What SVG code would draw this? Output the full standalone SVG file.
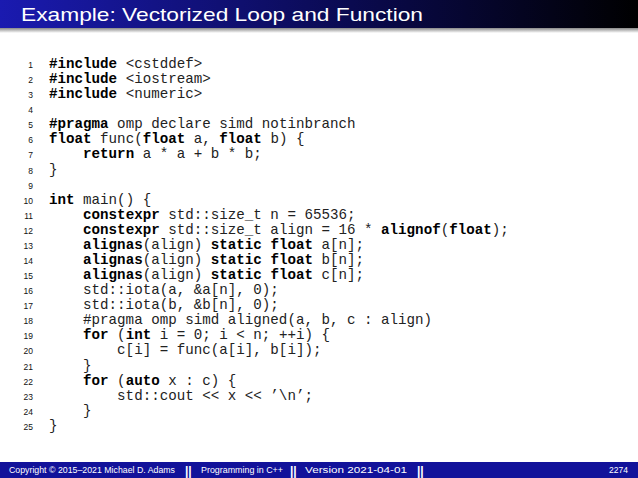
<svg xmlns="http://www.w3.org/2000/svg" width="638" height="478" viewBox="0 0 638 478">
<defs>
<linearGradient id="hg" x1="0" y1="0" x2="1" y2="0"><stop offset="0" stop-color="#1a1ab0"/><stop offset="0.55" stop-color="#0a0a50"/><stop offset="1" stop-color="#000"/></linearGradient>
<linearGradient id="sh" x1="0" y1="0" x2="0" y2="1"><stop offset="0" stop-color="#888"/><stop offset="1" stop-color="#fff"/></linearGradient>
</defs>
<style>
.c{font-family:"Liberation Mono","Courier New",monospace;font-size:14.2px;fill:#222;white-space:pre}
.n{font-family:"Liberation Sans",Arial,sans-serif;font-size:8.5px;fill:#111;text-anchor:end}
.b{font-weight:bold;fill:#000}
.f{font-family:"Liberation Sans",Arial,sans-serif;font-size:8.5px;fill:#fff}
.s{font-family:"Liberation Sans",Arial,sans-serif;font-size:12px;font-weight:bold;fill:#fff}
</style>
<rect width="638" height="478" fill="#fff"/>
<g id="header"><rect width="638" height="28" fill="url(#hg)"/><rect y="28" width="638" height="5" fill="url(#sh)"/>
<text x="21" y="21" font-family="Liberation Sans,Arial,sans-serif" font-size="19" fill="#fff" textLength="402" lengthAdjust="spacingAndGlyphs">Example: Vectorized Loop and Function</text></g>
<g id="code">
<text class="n" x="33" y="68">1</text><text class="c" x="49" y="68"><tspan class="b">#include</tspan> &lt;cstddef&gt;</text>
<text class="n" x="33" y="83">2</text><text class="c" x="49" y="83"><tspan class="b">#include</tspan> &lt;iostream&gt;</text>
<text class="n" x="33" y="98">3</text><text class="c" x="49" y="98"><tspan class="b">#include</tspan> &lt;numeric&gt;</text>
<text class="n" x="33" y="113">4</text>
<text class="n" x="33" y="128">5</text><text class="c" x="49" y="128"><tspan class="b">#pragma</tspan> omp declare simd notinbranch</text>
<text class="n" x="33" y="143">6</text><text class="c" x="49" y="143"><tspan class="b">float</tspan> func(<tspan class="b">float</tspan> a, <tspan class="b">float</tspan> b) {</text>
<text class="n" x="33" y="158">7</text><text class="c" x="49" y="158">    <tspan class="b">return</tspan> a * a + b * b;</text>
<text class="n" x="33" y="174">8</text><text class="c" x="49" y="174">}</text>
<text class="n" x="33" y="189">9</text>
<text class="n" x="33" y="204">10</text><text class="c" x="49" y="204"><tspan class="b">int</tspan> main() {</text>
<text class="n" x="33" y="219">11</text><text class="c" x="49" y="219">    <tspan class="b">constexpr</tspan> std::size_t n = 65536;</text>
<text class="n" x="33" y="234">12</text><text class="c" x="49" y="234">    <tspan class="b">constexpr</tspan> std::size_t align = 16 * <tspan class="b">alignof</tspan>(<tspan class="b">float</tspan>);</text>
<text class="n" x="33" y="249">13</text><text class="c" x="49" y="249">    <tspan class="b">alignas</tspan>(align) <tspan class="b">static float</tspan> a[n];</text>
<text class="n" x="33" y="264">14</text><text class="c" x="49" y="264">    <tspan class="b">alignas</tspan>(align) <tspan class="b">static float</tspan> b[n];</text>
<text class="n" x="33" y="279">15</text><text class="c" x="49" y="279">    <tspan class="b">alignas</tspan>(align) <tspan class="b">static float</tspan> c[n];</text>
<text class="n" x="33" y="294">16</text><text class="c" x="49" y="294">    std::iota(a, &amp;a[n], 0);</text>
<text class="n" x="33" y="309">17</text><text class="c" x="49" y="309">    std::iota(b, &amp;b[n], 0);</text>
<text class="n" x="33" y="324">18</text><text class="c" x="49" y="324">    #pragma omp simd aligned(a, b, c : align)</text>
<text class="n" x="33" y="339">19</text><text class="c" x="49" y="339">    <tspan class="b">for</tspan> (<tspan class="b">int</tspan> i = 0; i &lt; n; ++i) {</text>
<text class="n" x="33" y="354">20</text><text class="c" x="49" y="354">        c[i] = func(a[i], b[i]);</text>
<text class="n" x="33" y="370">21</text><text class="c" x="49" y="370">    }</text>
<text class="n" x="33" y="385">22</text><text class="c" x="49" y="385">    <tspan class="b">for</tspan> (<tspan class="b">auto</tspan> x : c) {</text>
<text class="n" x="33" y="400">23</text><text class="c" x="49" y="400">        std::cout &lt;&lt; x &lt;&lt; ’\n’;</text>
<text class="n" x="33" y="415">24</text><text class="c" x="49" y="415">    }</text>
<text class="n" x="33" y="430">25</text><text class="c" x="49" y="430">}</text>
</g>
<g id="footer"><rect y="462" width="638" height="16" fill="#12129a"/>
<text class="f" x="9" y="473" textLength="166" lengthAdjust="spacingAndGlyphs">Copyright © 2015–2021 Michael D. Adams</text>
<text class="s" x="185" y="475">||</text>
<text class="f" x="201" y="473" textLength="82" lengthAdjust="spacingAndGlyphs">Programming in C++</text>
<text class="s" x="290" y="475">||</text>
<text class="f" x="305" y="473" textLength="102" lengthAdjust="spacingAndGlyphs">Version 2021-04-01</text>
<text class="s" x="417" y="475">||</text>
<text class="f" x="628" y="473" text-anchor="end">2274</text></g>
</svg>
